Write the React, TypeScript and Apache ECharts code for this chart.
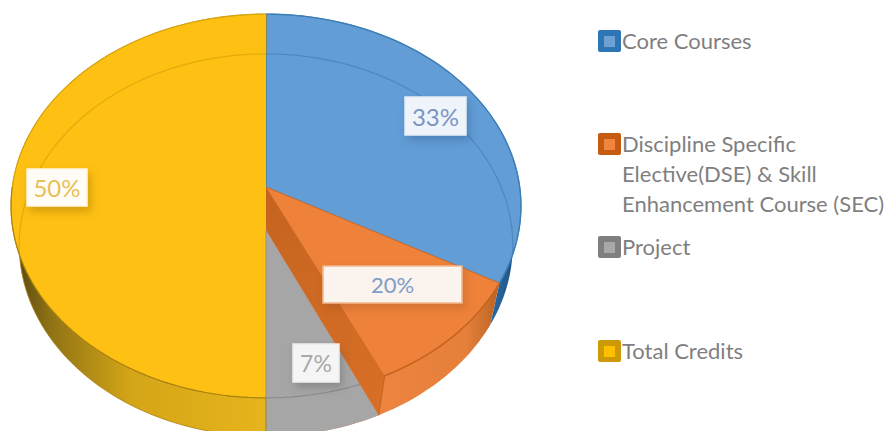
import React, { useEffect, useRef } from "react";
import * as echarts from "echarts";

const CATEGORIES = ["Core Courses", "Discipline Specific", "Project", "Total Credits"];
const LEGEND_LINES = [
  ["Core Courses"],
  ["Discipline Specific", "Elective(DSE) & Skill", "Enhancement Course (SEC)"],
  ["Project"],
  ["Total Credits"],
];
// Stated percentage of each slice; every percent sweeps 3.6 degrees.
const VALUES = [33, 20, 7, 50];

// Sweep starts: Core opens at twelve o'clock, Discipline follows it, Total Credits
// closes the circle and Project sits directly before Total Credits. Slices drawn
// later lie over the tail of the Discipline slice.
const STARTS = [
  0,
  VALUES[0],
  100 - VALUES[3] - VALUES[2],
  100 - VALUES[3],
];

const FONT = "Lato, 'Noto Sans', sans-serif";

// Perspective projection of the pie's upper and lower discs.
const TOP_DISC = { cx: 266, cy: 187, a: 253.7, b: 190, q: 0.099 };
const LOW_DISC = { cx: 266, cy: 230, a: 246, b: 190, q: 0.079 };

type Disc = typeof TOP_DISC;

const project = (d: Disc, pct: number): number[] => {
  const t = (pct / 100) * Math.PI * 2;
  const u = Math.sin(t);
  const v = -Math.cos(t);
  const w = 1 - d.q * v;
  return [d.cx + (d.a * u) / w, d.cy + (d.b * v) / w];
};

const arc = (d: Disc, from: number, to: number): number[][] => {
  const n = Math.max(2, Math.ceil(Math.abs(to - from) * 2));
  const out: number[][] = [];
  for (let i = 0; i <= n; i++) out.push(project(d, from + ((to - from) * i) / n));
  return out;
};

const sector = (d: Disc, from: number, to: number): number[][] => [
  [d.cx, d.cy],
  ...arc(d, from, to),
];

const wall = (from: number, to: number): number[][] => [
  ...arc(TOP_DISC, from, to),
  ...arc(LOW_DISC, to, from),
];

const grad = (x: number, y: number, x2: number, y2: number, stops: [number, string][]) =>
  new echarts.graphic.LinearGradient(
    x,
    y,
    x2,
    y2,
    stops.map(([offset, color]) => ({ offset, color })),
    true
  );

// Value tag boxes: left, top, width, height.
const TAG_BOXES = [
  [405, 97, 61, 38],
  [323, 266, 139, 37],
  [293, 344, 46, 38],
  [27, 169, 60, 37],
];
const TAG_FONT_SIZES = [24, 22, 23, 24];
const TAG_STYLES = [
  { fill: "#eef4fa", stroke: "#e3edf7", text: "#7c94c4", shadow: "rgba(40,80,130,0.35)" },
  { fill: "#faf3ee", stroke: "#f2b68c", text: "#7f9cc6", shadow: "rgba(130,70,20,0.25)" },
  { fill: "#f5f5f5", stroke: "#ededed", text: "#a9a9a9", shadow: "rgba(70,70,70,0.3)" },
  { fill: "#fffdf6", stroke: "#fff6dc", text: "#e8bf58", shadow: "rgba(150,105,0,0.4)" },
];

const LEGEND_Y = [41, 144, 247, 351];
const LEGEND_OUTER = ["#2e75b6", "#c55a11", "#7f7f7f", "#cc9a06"];
const LEGEND_INNER = ["#6fa0d4", "#f0853f", "#a8a8a8", "#ffc000"];

const renderSlice = (params: any, api: any) => {
  const idx = params.dataIndex;
  const start = api.value(0) as number;
  const end = start + (api.value(1) as number);
  const children: any[] = [];
  const poly = (points: number[][], style: any, z2 = 1) =>
    children.push({ type: "polygon", shape: { points }, style, z2 });
  const line = (points: number[][], stroke: string, lineWidth: number, z2 = 2) =>
    children.push({ type: "polyline", shape: { points }, style: { fill: "none", stroke, lineWidth }, z2 });

  if (idx === 0) {
    poly(wall(start, end), {
      fill: grad(490, 0, 520, 0, [
        [0, "#2a6aa3"],
        [1, "#1d4f7c"],
      ]),
    });
    poly(sector(TOP_DISC, start, end), { fill: "#629dd6", stroke: "#4f8bc2", lineWidth: 1 });
    line(arc(LOW_DISC, 0, 27), "rgba(60,115,170,0.5)", 1.2);
    line(arc(TOP_DISC, start, end), "#3d7eb6", 1.4);
    line([[266, 14], [266, 187]], "#55808f", 1.4);
  } else if (idx === 1) {
    poly(wall(start, end), {
      fill: grad(375, 0, 497, 0, [
        [0, "#ee8540"],
        [0.75, "#e57f3a"],
        [0.92, "#c96f2b"],
        [1, "#b9642a"],
      ]),
    });
    poly(sector(TOP_DISC, start, end), { fill: "#ee823a", stroke: "#c96a2a", lineWidth: 1 });
    line(arc(TOP_DISC, start, end), "#c7641f", 1.6);
  } else if (idx === 2) {
    // Project lies at the lower level, with Discipline's cut face standing beside it.
    poly(sector(LOW_DISC, start, end), { fill: "#a6a6a6" }, 3);
    line(arc(TOP_DISC, start, end), "#8b8b8b", 1.2, 4);
    const topEdge = project(TOP_DISC, start);
    const lowEdge = project(LOW_DISC, start);
    poly(
      [[TOP_DISC.cx, TOP_DISC.cy], topEdge, lowEdge, [LOW_DISC.cx, LOW_DISC.cy]],
      {
        fill: grad(266, 187, 380, 415, [
          [0, "#c4641f"],
          [1, "#d96f27"],
        ]),
      },
      5
    );
    line([topEdge, lowEdge], "#c7641f", 1, 6);
  } else {
    poly(
      wall(start, end),
      {
        fill: grad(20, 0, 266, 0, [
          [0, "#5f4d12"],
          [0.12, "#8f7215"],
          [0.45, "#d4a517"],
          [1, "#e6b41c"],
        ]),
        stroke: "#a8830f",
        lineWidth: 0.8,
      },
      7
    );
    poly(sector(TOP_DISC, start, end), { fill: "#fec013" }, 8);
    line(arc(LOW_DISC, 73, 100), "rgba(190,135,0,0.4)", 1.2, 9);
    line(arc(TOP_DISC, start, 75), "#a8830f", 1.2, 9);
    line(arc(TOP_DISC, 75, end), "#d6a512", 1.2, 9);
    line([[266, 230], [266, 431]], "#96917f", 1, 9);
  }

  const [x, y, width, height] = TAG_BOXES[idx];
  const tag = TAG_STYLES[idx];
  children.push({
    type: "rect",
    shape: { x, y, width, height },
    style: {
      fill: tag.fill,
      stroke: tag.stroke,
      lineWidth: 1.5,
      shadowBlur: 8,
      shadowOffsetX: 3,
      shadowOffsetY: 5,
      shadowColor: tag.shadow,
    },
    z2: 100,
  });
  children.push({
    type: "text",
    style: {
      x: x + width / 2,
      y: y + height / 2,
      text: `${VALUES[idx]}%`,
      fill: tag.text,
      fontSize: TAG_FONT_SIZES[idx],
      fontFamily: FONT,
      align: "center",
      verticalAlign: "middle",
    },
    z2: 101,
  });
  return { type: "group", children };
};

const legendGraphics = () => {
  const elements: any[] = [];
  CATEGORIES.forEach((_, i) => {
    const y = LEGEND_Y[i];
    elements.push({
      type: "rect",
      left: 598,
      top: y - 11,
      shape: { width: 23, height: 22, r: 2 },
      style: { fill: LEGEND_OUTER[i] },
      z: 10,
    });
    elements.push({
      type: "rect",
      left: 604,
      top: y - 5,
      shape: { width: 11, height: 11 },
      style: { fill: LEGEND_INNER[i] },
      z: 11,
    });
    LEGEND_LINES[i].forEach((text, j) => {
      elements.push({
        type: "text",
        x: 622,
        y: y - 1 + j * 30,
        style: {
          text,
          fill: "#7f7f7f",
          fontSize: 22,
          fontFamily: FONT,
          verticalAlign: "middle",
        },
        z: 11,
      });
    });
  });
  return elements;
};

export default function App() {
  const ref = useRef<HTMLDivElement>(null);
  useEffect(() => {
    const chart = echarts.init(ref.current!, undefined, { renderer: "svg" });
    chart.setOption({
      animation: false,
      backgroundColor: "#ffffff",
      graphic: legendGraphics(),
      series: [
        {
          type: "custom",
          coordinateSystem: "none",
          silent: true,
          clip: false,
          renderItem: renderSlice,
          data: VALUES.map((v, i) => ({ name: CATEGORIES[i], value: [STARTS[i], v] })),
        },
      ],
    });
    return () => chart.dispose();
  }, []);
  return (
    <div
      ref={ref}
      style={{ position: "fixed", left: 0, top: 0, width: 889, height: 431, background: "#fff" }}
    />
  );
}
